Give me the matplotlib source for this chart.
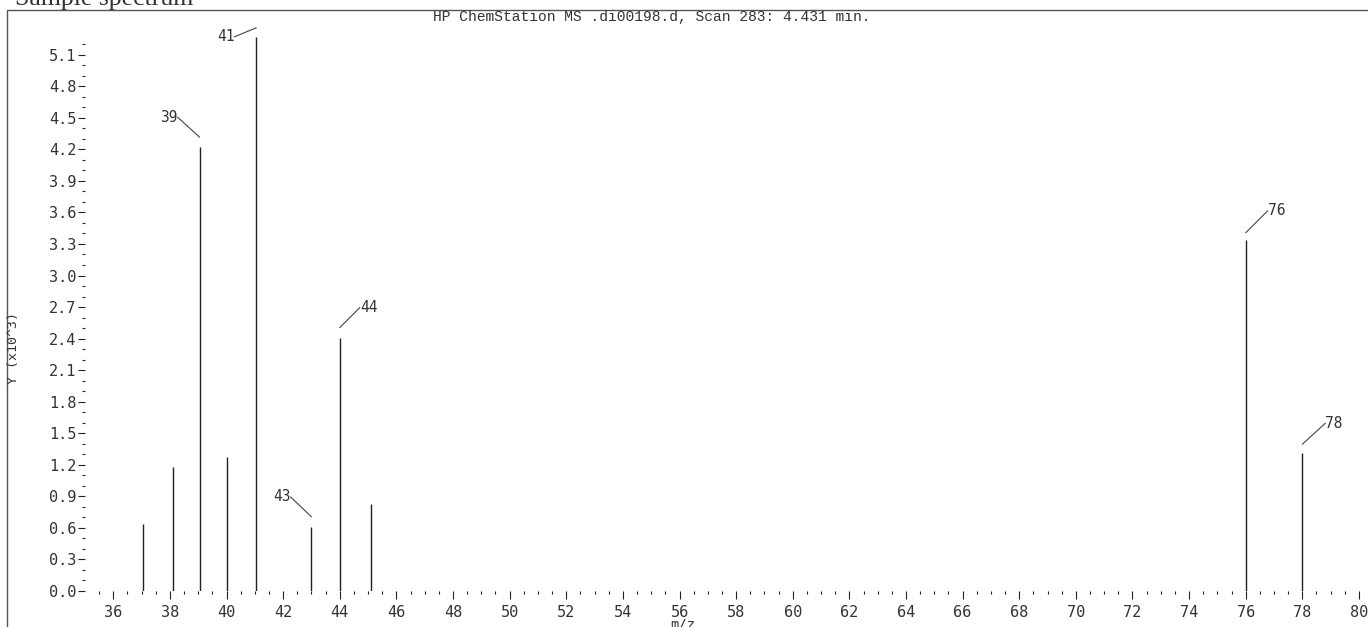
import matplotlib
matplotlib.use("Agg")
import matplotlib.pyplot as plt
from matplotlib import transforms
from matplotlib.lines import Line2D
import numpy as np

# Mass spectrum, scan 283 (abundance in units of 10^3 counts)
mz = [37.05, 38.1, 39.05, 40.0, 41.05, 43.0, 44.0, 45.1, 76.0, 78.0]
abundance = [0.64, 1.18, 4.22, 1.27, 5.27, 0.61, 2.41, 0.83, 3.34, 1.31]
labelled_mz = [39.05, 41.05, 43.0, 44.0, 76.0, 78.0]

x_ticks = list(range(36, 81, 2))
y_ticks = [round(0.3 * i, 1) for i in range(18)]
y_tick_labels = [f"{v:.1f}" for v in y_ticks]

title = "HP ChemStation MS .di00198.d, Scan 283: 4.431 min."
header = "Sample spectrum"
x_label = "m/z"
y_label = "Y (x10^3)"

# leader geometry for peak labels: gap above peak top, text offset (pixels)
leader_style = {
    39.05: (10, -22, 20),
    41.05: (9, -22, -9),
    43.0: (10, -21, 20),
    44.0: (10, 20, 20),
    76.0: (7, 22, 22),
    78.0: (9, 23, 21),
}

W, H = 1368, 627
ink = "#222222"
text_ink = "#333333"

fig = plt.figure(figsize=(W / 100, H / 100), dpi=100)
fig.patch.set_facecolor("white")

ax_left, ax_bottom, ax_top = 85, 591, 20
ax = fig.add_axes([ax_left / W, 1 - ax_bottom / H, (W - ax_left) / W, (ax_bottom - ax_top) / H])
ax.set_xlim(35.0, 80.32)
ax.set_ylim(0, 5.43)
for s in ax.spines.values():
    s.set_visible(False)
ax.patch.set_alpha(0)

ax.vlines(mz, 0, abundance, color=ink, lw=1.0)

ax.set_xticks(x_ticks)
ax.set_xticklabels([str(v) for v in x_ticks])
ax.set_xticks(np.arange(35.5, 80.01, 0.5), minor=True)
ax.set_yticks(y_ticks)
ax.set_yticklabels(y_tick_labels)
ax.set_yticks(np.arange(0, 5.21, 0.1), minor=True)

tick_font = {"family": "DejaVu Sans Mono", "size": 11}
for lab in ax.get_xticklabels() + ax.get_yticklabels():
    lab.set_fontfamily(tick_font["family"])
    lab.set_fontsize(tick_font["size"])
    lab.set_color(text_ink)

ax.tick_params(axis="x", which="major", length=6, width=0.8, direction="out", pad=4, color=ink)
ax.tick_params(axis="x", which="minor", length=2.5, width=0.8, direction="out", color=ink)
ax.tick_params(axis="y", which="major", length=5, width=0.8, direction="out", pad=1, color=ink)
ax.tick_params(axis="y", which="minor", length=2, width=0.8, direction="out", color=ink)

# peak labels with short leader lines
for m, h in zip(mz, abundance):
    if m not in labelled_mz:
        continue
    gap, dx, dy = leader_style[m]
    anchor = transforms.offset_copy(ax.transData, fig=fig, x=0, y=gap, units="dots")
    ha = "right" if dx < 0 else "left"
    ax.annotate(str(int(round(m))), xy=(m, h), xycoords=anchor,
                xytext=(dx, dy), textcoords="offset pixels",
                ha=ha, va="center", family="DejaVu Sans Mono", fontsize=10.5,
                color=text_ink, annotation_clip=False,
                arrowprops=dict(arrowstyle="-", color="#444444", lw=0.8,
                                shrinkA=0, shrinkB=0, patchA=None,
                                relpos=(1.0, 0.5) if dx < 0 else (0.0, 0.5)))

fig.text(652 / W, 1 - 17 / H, title, ha="center", va="center",
         family="Liberation Mono", fontsize=10.5, color=text_ink)
fig.text(683 / W, 1 - 625 / H, x_label, ha="center", va="center",
         family="DejaVu Sans Mono", fontsize=10, color=text_ink)
fig.text(13 / W, 1 - 348 / H, y_label, ha="center", va="center", rotation=90,
         family="DejaVu Sans Mono", fontsize=9.5, color=text_ink)
fig.text(15 / W, 1 - 5 / H, header, ha="left", va="baseline",
         family="Liberation Serif", fontsize=18.5, color=text_ink)

# outer frame
fig.add_artist(Line2D([7 / W, 7 / W, 1.0], [0.0, 1 - 10 / H, 1 - 10 / H],
                      transform=fig.transFigure, color="#555555", lw=1.0))

fig.savefig("out.png", dpi=100, facecolor="white")
